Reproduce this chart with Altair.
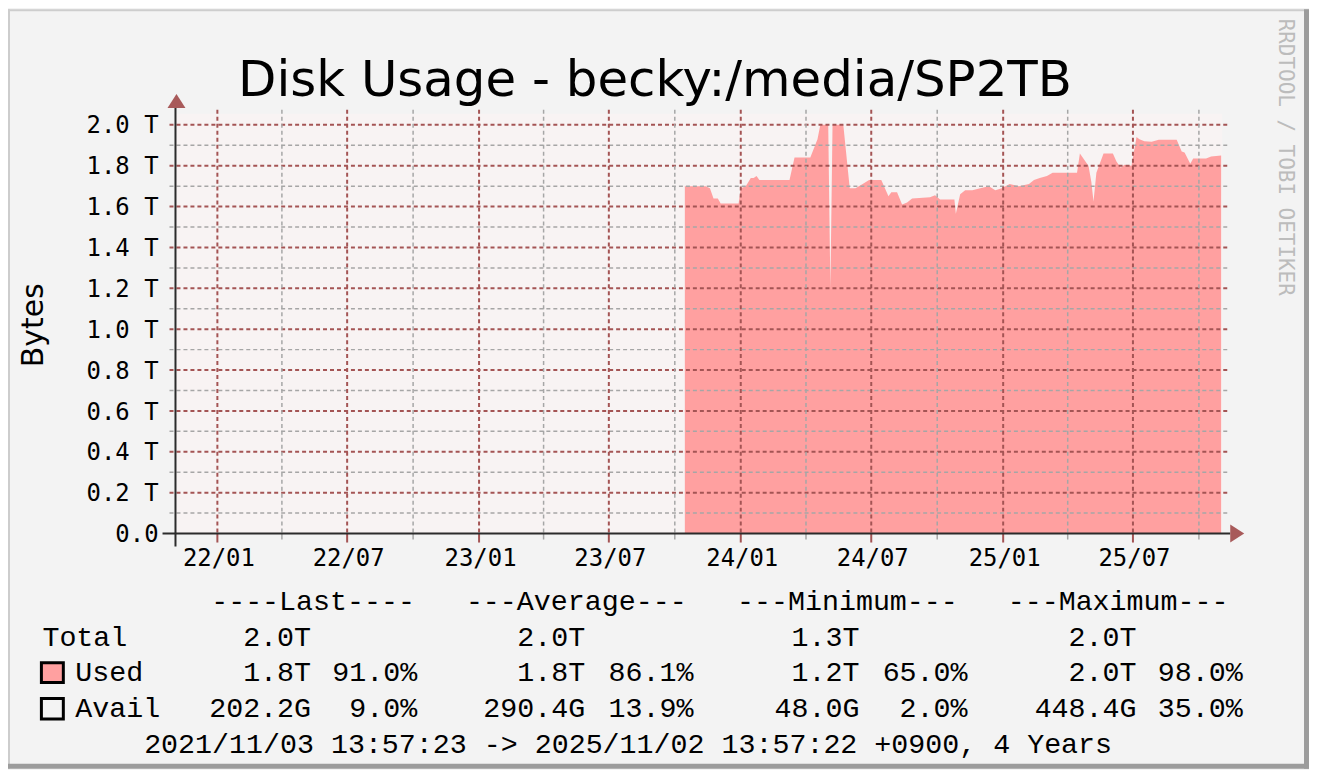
import altair as alt
import pandas as pd

# ---------------- data ----------------
used_dates = ["2023-10-15", "2023-11-13", "2023-11-19", "2023-11-24", "2023-11-30", "2023-12-04",
              "2023-12-29", "2024-01-01", "2024-01-08", "2024-01-15", "2024-01-19", "2024-01-23",
              "2024-01-27", "2024-03-09", "2024-03-16", "2024-04-07", "2024-04-17", "2024-04-21",
              "2024-05-01", "2024-05-02", "2024-05-05", "2024-05-08", "2024-05-23", "2024-06-01",
              "2024-06-09", "2024-06-19", "2024-06-28", "2024-07-15", "2024-07-25", "2024-07-29",
              "2024-08-06", "2024-08-13", "2024-08-20", "2024-08-27", "2024-09-21", "2024-09-28",
              "2024-10-05", "2024-10-25", "2024-10-27", "2024-11-02", "2024-11-09", "2024-11-19",
              "2024-11-30", "2024-12-12", "2024-12-21", "2024-12-30", "2025-01-10", "2025-01-23",
              "2025-02-06", "2025-02-13", "2025-02-21", "2025-03-03", "2025-03-11", "2025-04-14",
              "2025-04-18", "2025-04-28", "2025-04-30", "2025-05-04", "2025-05-07", "2025-05-11",
              "2025-05-21", "2025-06-03", "2025-06-08", "2025-06-14", "2025-06-19", "2025-06-29",
              "2025-07-06", "2025-07-10", "2025-07-17", "2025-07-27", "2025-08-06", "2025-08-31",
              "2025-09-07", "2025-09-11", "2025-09-19", "2025-09-23", "2025-10-11", "2025-10-18",
              "2025-11-01"]
used_tb = [1.70, 1.70, 1.69, 1.64, 1.64, 1.615,
           1.615, 1.69, 1.70, 1.74, 1.74, 1.75,
           1.73, 1.73, 1.84, 1.84, 1.93, 2.00,
           2.00, 2.00, 1.20, 2.00, 2.00, 1.69,
           1.69, 1.71, 1.73, 1.73, 1.65, 1.67,
           1.67, 1.61, 1.62, 1.64, 1.645, 1.655,
           1.635, 1.635, 1.565, 1.66, 1.68, 1.68,
           1.69, 1.70, 1.68, 1.69, 1.71, 1.70,
           1.71, 1.73, 1.74, 1.75, 1.765, 1.765,
           1.86, 1.81, 1.80, 1.72, 1.625, 1.765,
           1.86, 1.86, 1.82, 1.79, 1.805, 1.80,
           1.94, 1.93, 1.92, 1.917, 1.927, 1.927,
           1.87, 1.865, 1.81, 1.835, 1.835, 1.845,
           1.85]

x_major_dates = ["2022-01-01", "2022-07-01", "2023-01-01", "2023-07-01",
                 "2024-01-01", "2024-07-01", "2025-01-01", "2025-07-01"]
x_major_labels = ["22/01", "22/07", "23/01", "23/07", "24/01", "24/07", "25/01", "25/07"]
x_minor_dates = ["2022-04-01", "2022-10-01", "2023-04-01", "2023-10-01",
                 "2024-04-01", "2024-10-01", "2025-04-01", "2025-10-01"]

y_major_vals = [0.0, 0.2, 0.4, 0.6, 0.8, 1.0, 1.2, 1.4, 1.6, 1.8, 2.0]
y_major_labels = ["0.0", "0.2 T", "0.4 T", "0.6 T", "0.8 T", "1.0 T",
                  "1.2 T", "1.4 T", "1.6 T", "1.8 T", "2.0 T"]
y_minor_vals = [0.1, 0.3, 0.5, 0.7, 0.9, 1.1, 1.3, 1.5, 1.7, 1.9]

title_text = "Disk Usage - becky:/media/SP2TB"
y_title = "Bytes"
watermark = "RRDTOOL / TOBI OETIKER"
legend_headers = ["----Last----", "---Average---", "---Minimum---", "---Maximum---"]
row_names = ["Total", "Used", "Avail"]
total_vals = ["2.0T", "2.0T", "1.3T", "2.0T"]
used_vals = ["1.8T", "1.8T", "1.2T", "2.0T"]
used_pcts = ["91.0%", "86.1%", "65.0%", "98.0%"]
avail_vals = ["202.2G", "290.4G", "48.0G", "448.4G"]
avail_pcts = ["9.0%", "13.9%", "2.0%", "35.0%"]
period_text = "2021/11/03 13:57:23 -> 2025/11/02 13:57:22 +0900, 4 Years"

# ---------------- layout / style ----------------
W, H = 1050, 421
PAD_L, PAD_T = 168, 105
TOT_W, TOT_H = 1305, 762
OX, OY = 176, 113          # page position of the plot origin


def px(v):
    return v - OX


def py(v):
    return v - OY


BG = "#f3f3f3"
CANVAS = "#f8f3f3"
AREA = "#ffa0a0"
MGRID = "#a45454"
GRID = "#a6a6a6"
AXIS = "#2b2b2b"
ARROW = "#a85a5a"
SANS = "DejaVu Sans"
MONO = "DejaVu Sans Mono"
LEG = "'Nimbus Mono PS', 'Courier New', Courier, FreeMono, 'Liberation Mono', monospace"
LEG_SIZE = 28.4

x_scale = alt.Scale(domain=[alt.DateTime(year=2021, month=11, date=3, hours=13, minutes=57, seconds=23, utc=True),
                            alt.DateTime(year=2025, month=11, date=2, hours=13, minutes=57, seconds=22, utc=True)],
                    nice=False)
y_scale = alt.Scale(domain=[0, 2.0537], nice=False, zero=False)

one = pd.DataFrame({"k": [0]})

used_df = pd.DataFrame({"date": used_dates, "tb": used_tb})
xmaj_df = pd.DataFrame({"date": x_major_dates, "label": x_major_labels})
xmin_df = pd.DataFrame({"date": x_minor_dates})
ymaj_df = pd.DataFrame({"v": y_major_vals, "label": y_major_labels})
ymin_df = pd.DataFrame({"v": y_minor_vals})

layers = []

# data area
layers.append(alt.Chart(used_df).mark_area(color=AREA, interpolate="linear", opacity=1).encode(
    x=alt.X("date:T", scale=x_scale, axis=None),
    y=alt.Y("tb:Q", scale=y_scale, axis=None)))

# horizontal grid
layers.append(alt.Chart(ymin_df).mark_rule(color=GRID, strokeWidth=1.5, strokeDash=[4, 3]).encode(
    y=alt.Y("v:Q", scale=y_scale, axis=None), x=alt.value(-6), x2=alt.value(W + 6)))
layers.append(alt.Chart(ymaj_df[ymaj_df.v > 0]).mark_rule(color=MGRID, strokeWidth=2, strokeDash=[4, 3]).encode(
    y=alt.Y("v:Q", scale=y_scale, axis=None), x=alt.value(-6), x2=alt.value(W + 6)))

# vertical grid
layers.append(alt.Chart(xmin_df).mark_rule(color=GRID, strokeWidth=1.5, strokeDash=[4, 3]).encode(
    x=alt.X("date:T", scale=x_scale, axis=None), y=alt.value(-4), y2=alt.value(H)))
layers.append(alt.Chart(xmaj_df).mark_rule(color=MGRID, strokeWidth=2, strokeDash=[4, 3]).encode(
    x=alt.X("date:T", scale=x_scale, axis=None), y=alt.value(-4), y2=alt.value(H)))

# x ticks below axis
layers.append(alt.Chart(xmin_df).mark_rule(color=GRID, strokeWidth=1.5).encode(
    x=alt.X("date:T", scale=x_scale, axis=None), y=alt.value(H), y2=alt.value(H + 6)))
layers.append(alt.Chart(xmaj_df).mark_rule(color=MGRID, strokeWidth=2).encode(
    x=alt.X("date:T", scale=x_scale, axis=None), y=alt.value(H), y2=alt.value(H + 9)))

# axis lines
layers.append(alt.Chart(one).mark_rule(color=AXIS, strokeWidth=2).encode(
    y=alt.value(H), x=alt.value(px(163)), x2=alt.value(px(1234))))
layers.append(alt.Chart(one).mark_rule(color=AXIS, strokeWidth=2).encode(
    x=alt.value(0), y=alt.value(py(104)), y2=alt.value(py(547))))

# arrow heads
layers.append(alt.Chart(one).mark_point(shape="M-1,0.78L0,-0.78L1,0.78Z", filled=True, size=324,
                                        color=ARROW, opacity=1, strokeWidth=0).encode(
    x=alt.value(1), y=alt.value(py(100))))
layers.append(alt.Chart(one).mark_point(shape="M-0.78,-1L0.78,0L-0.78,1Z", filled=True, size=324,
                                        color=ARROW, opacity=1, strokeWidth=0).encode(
    x=alt.value(px(1241)), y=alt.value(H)))

# axis labels
layers.append(alt.Chart(ymaj_df).mark_text(font=MONO, fontSize=24, align="right", baseline="alphabetic",
                                           dy=8.7, color="#000000").encode(
    y=alt.Y("v:Q", scale=y_scale, axis=None), x=alt.value(px(159)), text="label:N"))
layers.append(alt.Chart(xmaj_df).mark_text(font=MONO, fontSize=24, align="center", baseline="alphabetic",
                                           dx=1.5, color="#000000").encode(
    x=alt.X("date:T", scale=x_scale, axis=None), y=alt.value(py(567)), text="label:N"))


def txt(text, x, y, **kw):
    return alt.Chart(one).mark_text(text=text, **kw).encode(x=alt.value(x), y=alt.value(y))


# titles
layers.append(txt(title_text, px(657), py(95), font=SANS, fontSize=50, align="center",
                  baseline="alphabetic", color="#000000"))
layers.append(txt(y_title, px(43), py(325), font=SANS, fontSize=30, align="center",
                  baseline="alphabetic", angle=270, color="#000000"))
layers.append(txt(watermark, px(1283), py(156.5), font=MONO, fontSize=21, align="center",
                  baseline="alphabetic", angle=90, color="#bcbcbc"))

# legend
row_y = {"head": 610.5, "Total": 646.5, "Used": 682.3, "Avail": 718, "period": 754}
head_cx = [314, 578, 850, 1121.5]
val_rx = [312, 587, 862, 1140]
pct_rx = [418.5, 695.5, 970.5, 1246.5]

for h, cx in zip(legend_headers, head_cx):
    layers.append(txt(h, px(cx), py(row_y["head"]), font=LEG, fontSize=LEG_SIZE, align="center",
                      baseline="alphabetic", color="#000000"))

name_x = {"Total": 42.5, "Used": 75.5, "Avail": 75.5}
for n in row_names:
    layers.append(txt(n, px(name_x[n]), py(row_y[n]), font=LEG, fontSize=LEG_SIZE, align="left",
                      baseline="alphabetic", color="#000000"))

for row, vals in (("Total", total_vals), ("Used", used_vals), ("Avail", avail_vals)):
    for v, rx in zip(vals, val_rx):
        layers.append(txt(v, px(rx), py(row_y[row]), font=LEG, fontSize=LEG_SIZE, align="right",
                          baseline="alphabetic", color="#000000"))
for row, vals in (("Used", used_pcts), ("Avail", avail_pcts)):
    for v, rx in zip(vals, pct_rx):
        layers.append(txt(v, px(rx), py(row_y[row]), font=LEG, fontSize=LEG_SIZE, align="right",
                          baseline="alphabetic", color="#000000"))

layers.append(txt(period_text, px(630), py(row_y["period"]), font=LEG, fontSize=LEG_SIZE, align="center",
                  baseline="alphabetic", color="#000000"))

# legend boxes
layers.append(alt.Chart(one).mark_rect(fill=AREA, stroke="#000000", strokeWidth=3).encode(
    x=alt.value(px(41.5)), x2=alt.value(px(63.5)), y=alt.value(py(663.5)), y2=alt.value(py(683.5))))
layers.append(alt.Chart(one).mark_rect(fill=BG, stroke="#000000", strokeWidth=3).encode(
    x=alt.value(px(41.5)), x2=alt.value(px(63.5)), y=alt.value(py(699.5)), y2=alt.value(py(720))))

# frame (3D border)
L, T = -PAD_L, -PAD_T
R, B = TOT_W - PAD_L, TOT_H - PAD_T
layers.append(alt.Chart(one).mark_rule(color="#cdcdcd", strokeWidth=2).encode(
    x=alt.value(L), x2=alt.value(R), y=alt.value(T + 1)))
layers.append(alt.Chart(one).mark_rule(color="#cdcdcd", strokeWidth=2).encode(
    x=alt.value(L + 1), y=alt.value(T), y2=alt.value(B)))
layers.append(alt.Chart(one).mark_rule(color="#9c9c9c", strokeWidth=5).encode(
    x=alt.value(R - 2.5), y=alt.value(T), y2=alt.value(B)))
layers.append(alt.Chart(one).mark_rule(color="#9c9c9c", strokeWidth=5).encode(
    x=alt.value(L), x2=alt.value(R), y=alt.value(B - 2.5)))

chart = alt.layer(*layers).properties(
    width=W, height=H,
    padding={"left": PAD_L, "top": PAD_T, "right": TOT_W - PAD_L - W, "bottom": TOT_H - PAD_T - H},
    autosize=alt.AutoSizeParams(type="none"),
    background=BG,
).configure_view(fill=CANVAS, strokeWidth=0)

chart.save("out.html", embed_options={"renderer": "svg", "actions": False})
